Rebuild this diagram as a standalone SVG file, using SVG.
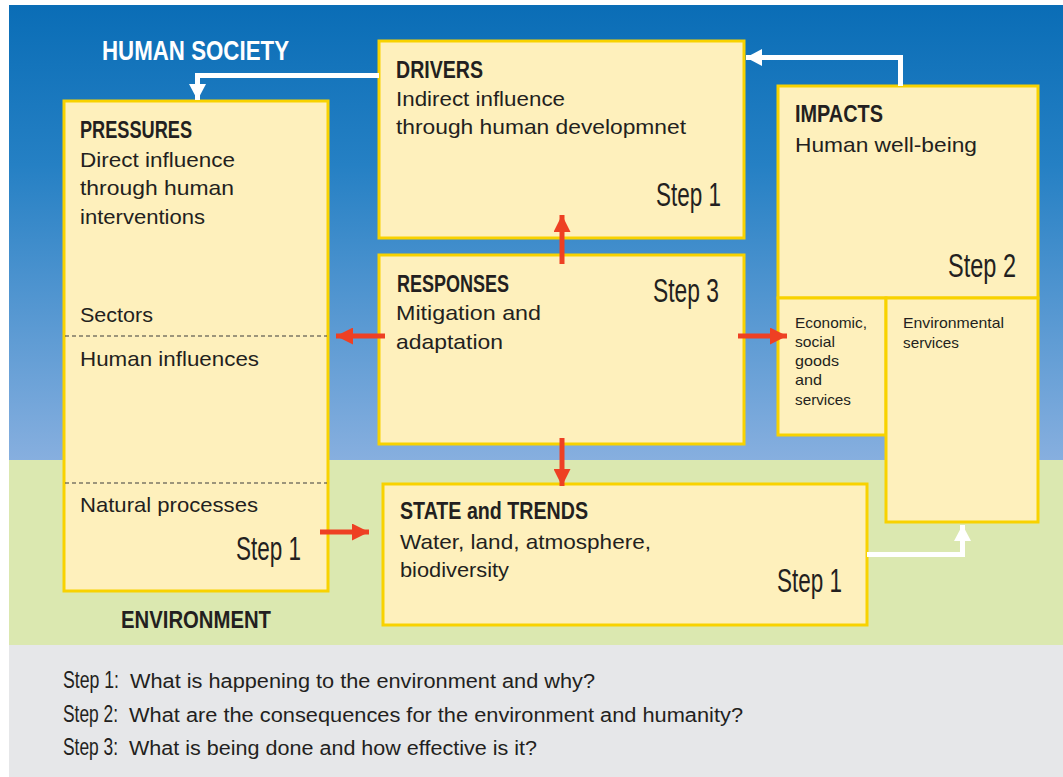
<svg xmlns="http://www.w3.org/2000/svg" width="1063" height="777" viewBox="0 0 1063 777">
<defs>
<linearGradient id="sky" x1="0" y1="0" x2="0" y2="1">
<stop offset="0" stop-color="#0a6db6"/>
<stop offset="0.35" stop-color="#2580c4"/>
<stop offset="1" stop-color="#87afdf"/>
</linearGradient>
<radialGradient id="shadow" cx="0.5" cy="0" r="0.5">
<stop offset="0" stop-color="#9a9a9a"/>
<stop offset="1" stop-color="#ffffff" stop-opacity="0"/>
</radialGradient>
<marker id="redHead" markerUnits="userSpaceOnUse" markerWidth="17" markerHeight="17" refX="17" refY="8.5" orient="auto">
<path d="M0,0 L17,8.5 L0,17 Z" fill="#ee4023"/>
</marker>
<marker id="whiteHead" markerUnits="userSpaceOnUse" markerWidth="16" markerHeight="17" refX="16" refY="8.5" orient="auto">
<path d="M0,0 L16,8.5 L0,17 Z" fill="#ffffff"/>
</marker>
</defs>
<style>
.box{fill:#fef0bc;stroke:#f8d200;stroke-width:3}
.head{font-family:"Liberation Sans",Arial,sans-serif;font-weight:bold;fill:#231f20;font-size:24px}
.body{font-family:"Liberation Sans",Arial,sans-serif;fill:#231f20;font-size:21px}
.small{font-family:"Liberation Sans",Arial,sans-serif;fill:#231f20;font-size:15px}
.step{font-family:"Liberation Sans",Arial,sans-serif;fill:#231f20;font-size:34px}
.leg{font-family:"Liberation Sans",Arial,sans-serif;fill:#231f20;font-size:20px}
.legs{font-family:"Liberation Sans",Arial,sans-serif;fill:#231f20;font-size:23px}
.red{stroke:#ee4023;stroke-width:5;fill:none;marker-end:url(#redHead)}
.white{stroke:#ffffff;stroke-width:5;fill:none;stroke-linejoin:miter;marker-end:url(#whiteHead)}
.dash{stroke:#3a3a3a;stroke-width:1;stroke-dasharray:4 3}
</style>
<rect x="0" y="0" width="1063" height="777" fill="#ffffff"/>
<ellipse cx="95" cy="0" rx="70" ry="8" fill="url(#shadow)"/>
<rect x="9" y="5" width="1054" height="456" fill="url(#sky)"/>
<rect x="9" y="460" width="1054" height="185" fill="#dbe8b0"/>
<rect x="9" y="645" width="1054" height="132" fill="#e6e7e9"/>

<text x="102" y="60" font-family="Liberation Sans,Arial,sans-serif" font-weight="bold" font-size="27" fill="#ffffff" textLength="187" lengthAdjust="spacingAndGlyphs">HUMAN SOCIETY</text>
<text x="121" y="628" class="head" textLength="150" lengthAdjust="spacingAndGlyphs">ENVIRONMENT</text>

<g id="pressures">
<rect class="box" x="64" y="101" width="264" height="490"/>
<line class="dash" x1="65" y1="336" x2="327" y2="336"/>
<line class="dash" x1="65" y1="483" x2="327" y2="483"/>
<text x="80" y="138" class="head" textLength="112" lengthAdjust="spacingAndGlyphs">PRESSURES</text>
<text x="80" y="167" class="body" textLength="155" lengthAdjust="spacingAndGlyphs">Direct influence</text>
<text x="80" y="195" class="body" textLength="154" lengthAdjust="spacingAndGlyphs">through human</text>
<text x="80" y="224" class="body" textLength="125" lengthAdjust="spacingAndGlyphs">interventions</text>
<text x="80" y="322" class="body" textLength="73" lengthAdjust="spacingAndGlyphs">Sectors</text>
<text x="80" y="366" class="body" textLength="179" lengthAdjust="spacingAndGlyphs">Human influences</text>
<text x="80" y="512" class="body" textLength="178" lengthAdjust="spacingAndGlyphs">Natural processes</text>
<text x="236" y="560" class="step" textLength="65" lengthAdjust="spacingAndGlyphs">Step 1</text>
</g>

<g id="drivers">
<rect class="box" x="379" y="41" width="365" height="197"/>
<text x="396" y="78" class="head" textLength="87" lengthAdjust="spacingAndGlyphs">DRIVERS</text>
<text x="396" y="106" class="body" textLength="169" lengthAdjust="spacingAndGlyphs">Indirect influence</text>
<text x="396" y="134" class="body" textLength="290" lengthAdjust="spacingAndGlyphs">through human developmnet</text>
<text x="656" y="206" class="step" textLength="65" lengthAdjust="spacingAndGlyphs">Step 1</text>
</g>

<g id="responses">
<rect class="box" x="379" y="255" width="365" height="189"/>
<text x="397" y="292" class="head" textLength="112" lengthAdjust="spacingAndGlyphs">RESPONSES</text>
<text x="396" y="320" class="body" textLength="145" lengthAdjust="spacingAndGlyphs">Mitigation and</text>
<text x="396" y="349" class="body" textLength="107" lengthAdjust="spacingAndGlyphs">adaptation</text>
<text x="653" y="302" class="step" textLength="66" lengthAdjust="spacingAndGlyphs">Step 3</text>
</g>

<g id="impacts">
<rect class="box" x="778" y="86" width="260" height="212"/>
<text x="795" y="122" class="head" textLength="88" lengthAdjust="spacingAndGlyphs">IMPACTS</text>
<text x="795" y="152" class="body" textLength="182" lengthAdjust="spacingAndGlyphs">Human well-being</text>
<text x="948" y="277" class="step" textLength="68" lengthAdjust="spacingAndGlyphs">Step 2</text>
</g>

<g id="economic">
<rect class="box" x="778" y="298" width="108" height="137"/>
<text x="795" y="328" class="small" textLength="72" lengthAdjust="spacingAndGlyphs">Economic,</text>
<text x="795" y="347" class="small" textLength="40" lengthAdjust="spacingAndGlyphs">social</text>
<text x="795" y="366" class="small" textLength="44" lengthAdjust="spacingAndGlyphs">goods</text>
<text x="795" y="385" class="small" textLength="27" lengthAdjust="spacingAndGlyphs">and</text>
<text x="795" y="405" class="small" textLength="56" lengthAdjust="spacingAndGlyphs">services</text>
</g>

<g id="environmental">
<rect class="box" x="886" y="298" width="152" height="224"/>
<text x="903" y="328" class="small" textLength="101" lengthAdjust="spacingAndGlyphs">Environmental</text>
<text x="903" y="348" class="small" textLength="56" lengthAdjust="spacingAndGlyphs">services</text>
</g>

<g id="state">
<rect class="box" x="383" y="484" width="484" height="141"/>
<text x="400" y="519" class="head" textLength="188" lengthAdjust="spacingAndGlyphs">STATE and TRENDS</text>
<text x="400" y="549" class="body" textLength="251" lengthAdjust="spacingAndGlyphs">Water, land, atmosphere,</text>
<text x="400" y="577" class="body" textLength="109" lengthAdjust="spacingAndGlyphs">biodiversity</text>
<text x="777" y="592" class="step" textLength="65" lengthAdjust="spacingAndGlyphs">Step 1</text>
</g>

<g id="connectors">
<path class="white" d="M379,75.5 H197.5 V100"/>
<path class="white" d="M900.5,86 V57.5 H746"/>
<path class="white" d="M867,554.5 H962.5 V525"/>
<line class="red" x1="562" y1="264" x2="562" y2="215"/>
<line class="red" x1="562" y1="438" x2="562" y2="486"/>
<line class="red" x1="385" y1="336" x2="336" y2="336"/>
<line class="red" x1="738" y1="336" x2="787" y2="336"/>
<line class="red" x1="320" y1="532" x2="369" y2="532"/>
</g>

<g id="legend">
<text x="63" y="688" class="legs" textLength="56" lengthAdjust="spacingAndGlyphs">Step 1:</text>
<text x="130" y="688" class="leg" textLength="465" lengthAdjust="spacingAndGlyphs">What is happening to the environment and why?</text>
<text x="63" y="722" class="legs" textLength="55" lengthAdjust="spacingAndGlyphs">Step 2:</text>
<text x="129" y="722" class="leg" textLength="614" lengthAdjust="spacingAndGlyphs">What are the consequences for the environment and humanity?</text>
<text x="63" y="755" class="legs" textLength="55" lengthAdjust="spacingAndGlyphs">Step 3:</text>
<text x="129" y="755" class="leg" textLength="408" lengthAdjust="spacingAndGlyphs">What is being done and how effective is it?</text>
</g>
</svg>
